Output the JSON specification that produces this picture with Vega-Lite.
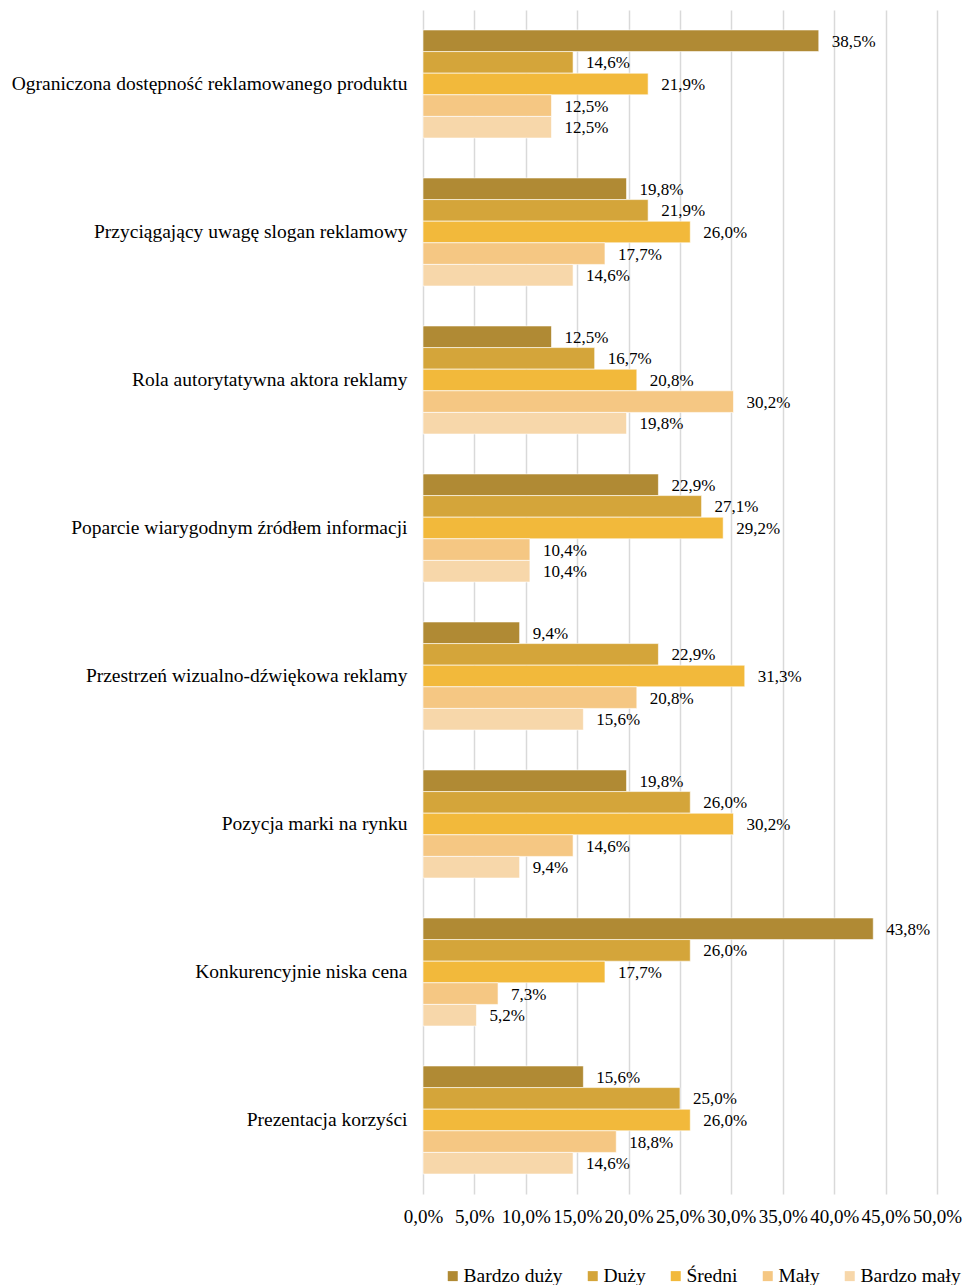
{
  "$schema": "https://vega.github.io/schema/vega-lite/v6.json",
  "width": 514,
  "height": 1184,
  "autosize": {"type": "none"},
  "padding": {"left": 423, "top": 10, "right": 28, "bottom": 91},
  "background": "white",
  "config": {
    "view": {"stroke": null},
    "font": "Liberation Serif",
    "text": {"font": "Liberation Serif"}
  },
  "data": {
    "values": [
      {"c": "Ograniczona dostępność reklamowanego produktu", "s": "Bardzo duży", "v": 38.5},
      {"c": "Ograniczona dostępność reklamowanego produktu", "s": "Duży", "v": 14.6},
      {"c": "Ograniczona dostępność reklamowanego produktu", "s": "Średni", "v": 21.9},
      {"c": "Ograniczona dostępność reklamowanego produktu", "s": "Mały", "v": 12.5},
      {"c": "Ograniczona dostępność reklamowanego produktu", "s": "Bardzo mały", "v": 12.5},
      {"c": "Przyciągający uwagę slogan reklamowy", "s": "Bardzo duży", "v": 19.8},
      {"c": "Przyciągający uwagę slogan reklamowy", "s": "Duży", "v": 21.9},
      {"c": "Przyciągający uwagę slogan reklamowy", "s": "Średni", "v": 26.0},
      {"c": "Przyciągający uwagę slogan reklamowy", "s": "Mały", "v": 17.7},
      {"c": "Przyciągający uwagę slogan reklamowy", "s": "Bardzo mały", "v": 14.6},
      {"c": "Rola autorytatywna aktora reklamy", "s": "Bardzo duży", "v": 12.5},
      {"c": "Rola autorytatywna aktora reklamy", "s": "Duży", "v": 16.7},
      {"c": "Rola autorytatywna aktora reklamy", "s": "Średni", "v": 20.8},
      {"c": "Rola autorytatywna aktora reklamy", "s": "Mały", "v": 30.2},
      {"c": "Rola autorytatywna aktora reklamy", "s": "Bardzo mały", "v": 19.8},
      {"c": "Poparcie wiarygodnym źródłem informacji", "s": "Bardzo duży", "v": 22.9},
      {"c": "Poparcie wiarygodnym źródłem informacji", "s": "Duży", "v": 27.1},
      {"c": "Poparcie wiarygodnym źródłem informacji", "s": "Średni", "v": 29.2},
      {"c": "Poparcie wiarygodnym źródłem informacji", "s": "Mały", "v": 10.4},
      {"c": "Poparcie wiarygodnym źródłem informacji", "s": "Bardzo mały", "v": 10.4},
      {"c": "Przestrzeń wizualno-dźwiękowa reklamy", "s": "Bardzo duży", "v": 9.4},
      {"c": "Przestrzeń wizualno-dźwiękowa reklamy", "s": "Duży", "v": 22.9},
      {"c": "Przestrzeń wizualno-dźwiękowa reklamy", "s": "Średni", "v": 31.3},
      {"c": "Przestrzeń wizualno-dźwiękowa reklamy", "s": "Mały", "v": 20.8},
      {"c": "Przestrzeń wizualno-dźwiękowa reklamy", "s": "Bardzo mały", "v": 15.6},
      {"c": "Pozycja marki na rynku", "s": "Bardzo duży", "v": 19.8},
      {"c": "Pozycja marki na rynku", "s": "Duży", "v": 26.0},
      {"c": "Pozycja marki na rynku", "s": "Średni", "v": 30.2},
      {"c": "Pozycja marki na rynku", "s": "Mały", "v": 14.6},
      {"c": "Pozycja marki na rynku", "s": "Bardzo mały", "v": 9.4},
      {"c": "Konkurencyjnie niska cena", "s": "Bardzo duży", "v": 43.8},
      {"c": "Konkurencyjnie niska cena", "s": "Duży", "v": 26.0},
      {"c": "Konkurencyjnie niska cena", "s": "Średni", "v": 17.7},
      {"c": "Konkurencyjnie niska cena", "s": "Mały", "v": 7.3},
      {"c": "Konkurencyjnie niska cena", "s": "Bardzo mały", "v": 5.2},
      {"c": "Prezentacja korzyści", "s": "Bardzo duży", "v": 15.6},
      {"c": "Prezentacja korzyści", "s": "Duży", "v": 25.0},
      {"c": "Prezentacja korzyści", "s": "Średni", "v": 26.0},
      {"c": "Prezentacja korzyści", "s": "Mały", "v": 18.8},
      {"c": "Prezentacja korzyści", "s": "Bardzo mały", "v": 14.6}
    ]
  },
  "encoding": {
    "y": {
      "field": "c",
      "type": "nominal",
      "sort": null,
      "title": null,
      "scale": {"paddingInner": 0.27, "paddingOuter": 0.135},
      "axis": {
        "domain": false,
        "ticks": false,
        "labelPadding": 16,
        "labelFontSize": 19.5,
        "labelFont": "Liberation Serif",
        "labelColor": "#000000",
        "labelLimit": 500
      }
    },
    "yOffset": {
      "field": "s",
      "type": "nominal",
      "sort": ["Bardzo duży", "Duży", "Średni", "Mały", "Bardzo mały"]
    },
    "x": {
      "field": "v",
      "type": "quantitative",
      "title": null,
      "scale": {"domain": [0, 50], "nice": false},
      "axis": {
        "values": [0, 5, 10, 15, 20, 25, 30, 35, 40, 45, 50],
        "domain": false,
        "ticks": false,
        "grid": true,
        "gridColor": "#d9d9d9",
        "gridWidth": 1.5,
        "labelPadding": 13,
        "labelFontSize": 19,
        "labelFont": "Liberation Serif",
        "labelColor": "#000000",
        "labelOverlap": false,
        "labelFlush": false,
        "labelExpr": "replace(format(datum.value, '.1f'), '.', ',') + '%'"
      }
    }
  },
  "layer": [
    {
      "mark": {"type": "bar", "stroke": "white", "strokeWidth": 0.6},
      "encoding": {
        "color": {
          "field": "s",
          "type": "nominal",
          "sort": ["Bardzo duży", "Duży", "Średni", "Mały", "Bardzo mały"],
          "scale": {
            "domain": ["Bardzo duży", "Duży", "Średni", "Mały", "Bardzo mały"],
            "range": ["#B08A34", "#D4A53A", "#F2B93B", "#F5C783", "#F7D7AA"]
          },
          "legend": {
            "title": null,
            "orient": "none",
            "direction": "horizontal",
            "legendX": 20,
            "legendY": 1256,
            "symbolType": "square",
            "symbolSize": 100,
            "symbolStrokeWidth": 0,
            "labelFontSize": 19.5,
            "labelFont": "Liberation Serif",
            "labelColor": "#000000",
            "labelOffset": 1,
            "columnPadding": 20,
            "labelLimit": 300
          }
        }
      }
    },
    {
      "mark": {
        "type": "text",
        "align": "left",
        "baseline": "middle",
        "dx": 13,
        "dy": 1,
        "fontSize": 17,
        "font": "Liberation Serif",
        "color": "#000000",
        "text": {"expr": "replace(format(datum.v, '.1f'), '.', ',') + '%'"}
      }
    }
  ]
}
